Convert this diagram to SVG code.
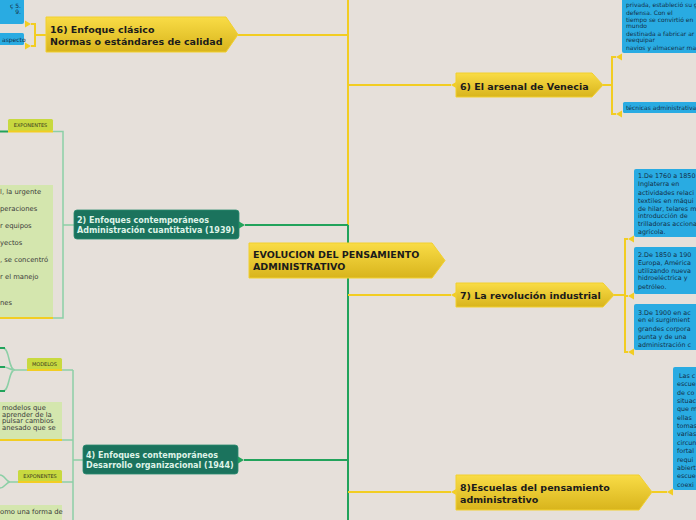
<svg xmlns="http://www.w3.org/2000/svg" width="696" height="520" viewBox="0 0 696 520">
<defs>
<linearGradient id="yg" x1="0" y1="0" x2="0" y2="1">
<stop offset="0" stop-color="#f9dc46"/>
<stop offset="1" stop-color="#d8b41c"/>
</linearGradient>
<style>
.yn{fill:url(#yg);stroke:#f2d02f;stroke-width:1}
.yt{font-family:"DejaVu Sans",sans-serif;font-weight:bold;font-size:9.5px;fill:#1b1b1b}
.gn{fill:#1b735d;stroke:#2a8a70;stroke-width:0.8}
.gt{font-family:"DejaVu Sans",sans-serif;font-weight:bold;font-size:8px;fill:#dff3e8}
.bb{fill:#29abe2}
.bt{font-family:"DejaVu Sans",sans-serif;font-size:6px;fill:#132f48}
.bt2{font-family:"DejaVu Sans",sans-serif;font-size:6.4px;fill:#132f48}
.lb{fill:#c8d93f}
.lt{font-family:"DejaVu Sans",sans-serif;font-size:5px;fill:#3a3a20}
.pg{fill:#d4e6ae}
.pt{font-family:"DejaVu Sans",sans-serif;font-size:6.8px;fill:#3a3a3a}
.yl{stroke:#f2cd22;stroke-width:2;fill:none}
.gl{stroke:#22a35b;stroke-width:2;fill:none}
.ll{stroke:#8ccfa6;stroke-width:1.5;fill:none}
.ul{stroke:#f2cd22;stroke-width:2}
.ya{fill:#f2cd22}
.ga{fill:#22a35b}
</style>
</defs>
<rect width="696" height="520" fill="#e6e0da"/>

<g id="connectors">
<line class="yl" x1="348" y1="0" x2="348" y2="520" stroke-width="3"/>
<line class="gl" x1="348" y1="225" x2="348" y2="520"/>
<line class="yl" x1="238" y1="35" x2="348" y2="35"/>
<line class="yl" x1="348" y1="85" x2="451" y2="85"/>
<line class="yl" x1="348" y1="295" x2="451" y2="295"/>
<line class="yl" x1="348" y1="492" x2="451" y2="492"/>
<line class="gl" x1="245" y1="225" x2="348" y2="225"/>
<line class="gl" x1="244" y1="460" x2="348" y2="460"/>
<polygon class="ya" points="451,85 457,81.5 457,88.5"/>
<polygon class="ya" points="451,295 457,291.5 457,298.5"/>
<polygon class="ya" points="451,492 457,488.5 457,495.5"/>
<polygon class="ga" points="245,225 239,221.5 239,228.5"/>
<polygon class="ga" points="244,460 238,456.5 238,463.5"/>
<polyline class="yl" points="46,35 35,35"/>
<polyline class="yl" points="31,24 35,24 35,46 31,46"/>
<polygon class="ya" points="31,24 25,20.5 25,27.5"/>
<polygon class="ya" points="31,46 25,42.5 25,49.5"/>
<polyline class="yl" points="603,85 612,85"/>
<polyline class="yl" points="616,57 612,57 612,114 616,114"/>
<polygon class="ya" points="616,57 622,53.5 622,60.5"/>
<polygon class="ya" points="616,114 622,110.5 622,117.5"/>
<polyline class="yl" points="614,295 625,295"/>
<polyline class="yl" points="628,239 625,239 625,352 628,352"/>
<line class="yl" x1="625" y1="296" x2="628" y2="296"/>
<polygon class="ya" points="628,239 634,235.5 634,242.5"/>
<polygon class="ya" points="628,296 634,292.5 634,299.5"/>
<polygon class="ya" points="628,352 634,348.5 634,355.5"/>
<line class="yl" x1="652" y1="492" x2="667" y2="492"/>
<polygon class="ya" points="667,492 673,488.5 673,495.5"/>
<line class="ll" x1="63" y1="225" x2="74" y2="225"/>
<polyline class="ll" points="53,131.5 63,131.5 63,318 53,318"/>
<line class="gl" x1="0" y1="131.5" x2="8" y2="131.5" stroke-width="1.5"/>
<line class="ll" x1="73" y1="460" x2="83" y2="460"/>
<line class="ll" x1="73" y1="370" x2="73" y2="520"/>
<line class="ll" x1="62" y1="370" x2="73" y2="370"/>
<line class="ll" x1="62" y1="440" x2="73" y2="440"/>
<line class="ll" x1="62" y1="482" x2="73" y2="482"/>
<path class="ll" d="M27,370 H15 C8,370 10,348 3,348 M15,370 C9,370 9,367 3,367 M15,370 C8,370 10,391 3,391"/>
<path class="gl" stroke-width="1.5" d="M0,348 H5 M0,367 H5 M0,391 H5"/>
<path class="ll" d="M18,482 H10 C6,482 5,475 0,475 M10,482 C6,482 5,488 0,488"/>
</g>

<g id="center">
<polygon class="yn" points="249,243 432,243 445,260.5 432,278 249,278"/>
<text class="yt" x="253" y="257.5">EVOLUCION DEL PENSAMIENTO</text>
<text class="yt" x="253" y="270">ADMINISTRATIVO</text>
</g>

<g id="node16">
<polygon class="yn" points="46,17 226,17 238,34.5 226,52 46,52"/>
<text class="yt" x="50" y="33">16) Enfoque clásico</text>
<text class="yt" x="50" y="45">Normas o estándares de calidad</text>
</g>
<g id="node16a">
<rect class="bb" x="-4" y="-4" width="28" height="28" rx="2"/>
<text class="bt" x="21" y="8" text-anchor="end">ç 5.</text>
<text class="bt" x="21" y="13.5" text-anchor="end">9.</text>
</g>
<g id="node16b">
<rect class="bb" x="-4" y="33" width="28" height="12" rx="1.5"/>
<text class="bt" x="2" y="41.5" font-size="5">aspecto</text>
</g>

<g id="node6">
<polygon class="yn" points="456,73 592,73 603,85 592,97 456,97"/>
<text class="yt" x="460" y="89.5">6) El arsenal de Venecia</text>
</g>
<g id="node6a">
<rect class="bb" x="622" y="-4" width="80" height="57" rx="2"/>
<text class="bt" x="626" y="7">privada, estableció su g</text>
<text class="bt" x="626" y="14.5">defensa. Con el</text>
<text class="bt" x="626" y="22">tiempo se convirtió en</text>
<text class="bt" x="626" y="28">mundo</text>
<text class="bt" x="626" y="35.5">destinada a fabricar ar</text>
<text class="bt" x="626" y="41.5">reequipar</text>
<text class="bt" x="626" y="49.5">navios y almacenar ma</text>
</g>
<g id="node6b">
<rect class="bb" x="623" y="102" width="80" height="11" rx="1.5"/>
<text class="bt" x="626" y="109.5" font-size="5">técnicas administrativas</text>
</g>

<g id="node7">
<polygon class="yn" points="456,283 603,283 614,295 603,307 456,307"/>
<text class="yt" x="460" y="298.5">7) La revolución industrial</text>
</g>
<g id="node7a">
<rect class="bb" x="634" y="169" width="70" height="68" rx="2"/>
<text class="bt2" x="638" y="178">1.De 1760 a 1850</text>
<text class="bt2" x="638" y="186">Inglaterra en</text>
<text class="bt2" x="638" y="194.5">actividades relaci</text>
<text class="bt2" x="638" y="202.5">textiles en máqui</text>
<text class="bt2" x="638" y="210.5">de hilar, telares m</text>
<text class="bt2" x="638" y="218">introducción de</text>
<text class="bt2" x="638" y="226">trilladoras acciona</text>
<text class="bt2" x="638" y="234">agrícola.</text>
</g>
<g id="node7b">
<rect class="bb" x="634" y="247" width="70" height="47" rx="2"/>
<text class="bt2" x="638" y="256.5">2.De 1850 a 190</text>
<text class="bt2" x="638" y="264.5">Europa, América</text>
<text class="bt2" x="638" y="272.5">utilizando nueva</text>
<text class="bt2" x="638" y="280">hidroeléctrica y</text>
<text class="bt2" x="638" y="288.5">petróleo.</text>
</g>
<g id="node7c">
<rect class="bb" x="634" y="304" width="70" height="46" rx="2"/>
<text class="bt2" x="638" y="314.5">3.De 1900 en ac</text>
<text class="bt2" x="638" y="322">en el surgimient</text>
<text class="bt2" x="638" y="330.5">grandes corpora</text>
<text class="bt2" x="638" y="338.5">punta y de una</text>
<text class="bt2" x="638" y="346.5">administración c</text>
</g>

<g id="node8">
<polygon class="yn" points="456,475 639,475 652,492 639,510 456,510"/>
<text class="yt" x="460" y="490.5">8)Escuelas del pensamiento</text>
<text class="yt" x="460" y="502.5">administrativo</text>
</g>
<g id="node8a">
<rect class="bb" x="673" y="367" width="30" height="123" rx="2"/>
<text class="bt2" x="679" y="377.5">Las c</text>
<text class="bt2" x="677" y="386">escue</text>
<text class="bt2" x="677" y="394.5">de co</text>
<text class="bt2" x="677" y="402.5">situac</text>
<text class="bt2" x="677" y="411">que m</text>
<text class="bt2" x="677" y="419.5">ellas</text>
<text class="bt2" x="677" y="428">tomas</text>
<text class="bt2" x="677" y="436">varias</text>
<text class="bt2" x="677" y="444.5">circun</text>
<text class="bt2" x="677" y="453">fortal</text>
<text class="bt2" x="677" y="461.5">requi</text>
<text class="bt2" x="677" y="469.5">abiert</text>
<text class="bt2" x="677" y="478">escue</text>
<text class="bt2" x="677" y="486.5">coexi</text>
</g>

<g id="node2">
<rect class="gn" x="74" y="210" width="165" height="29" rx="3"/>
<text class="gt" x="77" y="222.5">2) Enfoques contemporáneos</text>
<text class="gt" x="77" y="233">Administración cuantitativa (1939)</text>
</g>
<g id="node2a">
<rect class="lb" x="8" y="119" width="45" height="12" rx="1.5"/>
<line class="ul" x1="8" y1="131.5" x2="53" y2="131.5"/>
<text class="lt" x="30.5" y="127.3" text-anchor="middle">EXPONENTES</text>
</g>
<g id="node2b">
<rect class="pg" x="-4" y="185" width="57" height="133"/>
<line class="ul" x1="0" y1="318" x2="53" y2="318"/>
<text class="pt" x="0" y="194">l, la urgente</text>
<text class="pt" x="0" y="211">peraciones</text>
<text class="pt" x="0" y="228">r equipos</text>
<text class="pt" x="0" y="245">yectos</text>
<text class="pt" x="0" y="262">, se concentró</text>
<text class="pt" x="0" y="279">r el manejo</text>
<text class="pt" x="0" y="305">nes</text>
</g>

<g id="node4">
<rect class="gn" x="83" y="445" width="155" height="29" rx="3"/>
<text class="gt" x="86" y="457.5">4) Enfoques contemporáneos</text>
<text class="gt" x="86" y="468">Desarrollo organizacional (1944)</text>
</g>
<g id="node4a">
<rect class="lb" x="27" y="358" width="35" height="11.5" rx="1.5"/>
<line class="ul" x1="27" y1="370" x2="62" y2="370"/>
<text class="lt" x="44.5" y="366" text-anchor="middle">MODELOS</text>
</g>
<g id="node4b">
<rect class="pg" x="-4" y="402" width="66" height="38"/>
<line class="ul" x1="0" y1="440" x2="62" y2="440"/>
<text class="pt" x="2" y="410" font-size="4.8">modelos que</text>
<text class="pt" x="2" y="416.5" font-size="4.8">aprender de la</text>
<text class="pt" x="2" y="423" font-size="4.8">pulsar cambios</text>
<text class="pt" x="2" y="429.5" font-size="4.8">anesado que se</text>
</g>
<g id="node4c">
<rect class="lb" x="18" y="470" width="44" height="11.5" rx="1.5"/>
<line class="ul" x1="18" y1="482" x2="62" y2="482"/>
<text class="lt" x="40" y="478" text-anchor="middle">EXPONENTES</text>
</g>
<g id="node4d">
<rect class="pg" x="-4" y="505" width="66" height="20"/>
<text class="pt" x="0" y="514" font-size="5.3">omo una forma de</text>
</g>
</svg>
